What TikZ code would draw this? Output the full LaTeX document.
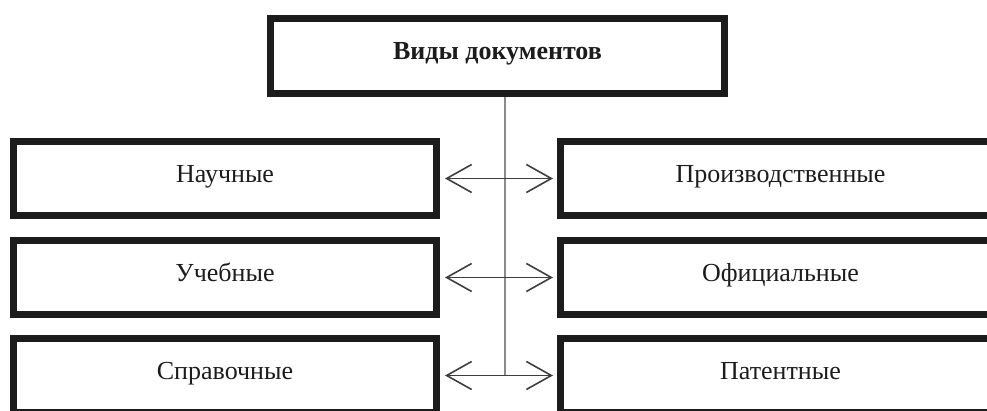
\documentclass[tikz,border=0pt]{standalone}
\usepackage{fontspec}
\setmainfont{Liberation Serif}
\usetikzlibrary{arrows.meta}
\definecolor{ink}{HTML}{1C1C1C}
\definecolor{trunkgray}{HTML}{8A8A8A}
\tikzset{
  box/.style={draw=ink, line width=7pt, minimum height=74pt, inner sep=0pt,
    text height=17pt, text depth=9pt,
    font=\fontsize{26}{30}\selectfont, text=ink},
  link/.style={draw=ink!85, line width=1.6pt,
    {Straight Barb[length=25pt,width=28pt]}-{Straight Barb[length=25pt,width=28pt]},
    shorten <=5pt, shorten >=4pt}
}
\begin{document}
\begin{tikzpicture}[x=1pt,y=-1pt]
      \useasboundingbox (0,0) rectangle (987,411);
      \node[box, minimum width=454pt, minimum height=75pt] (top) at (497.5,56) {\bfseries Виды документов};
      \def \Rows{
        1/178.5/Научные/Производственные,
        2/277.5/Учебные/Официальные,
        3/375.5/Справочные/Патентные}
      \coordinate (trunk) at (505,375.5);
      \path[draw,trunkgray,line width=2.4pt] (top.south -| trunk) -- (trunk);
      \foreach \id / \y / \left / \right in \Rows{
        \node[box, minimum width=423pt] (l\id) at (225,\y) {\left};
        \node[box, minimum width=440pt] (r\id) at (780.5,\y) {\right};
        \path[link] (l\id) -- (r\id);
      }
    \end{tikzpicture}
\end{document}
